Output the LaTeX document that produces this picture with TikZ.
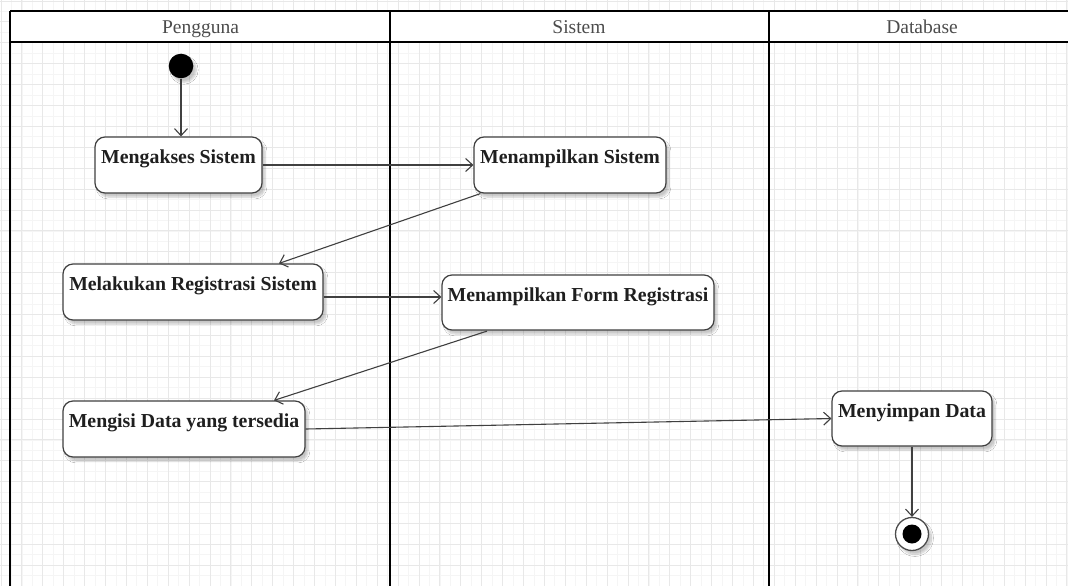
\documentclass[tikz,border=0pt]{standalone}
\usepackage{fontspec}
\setmainfont{Liberation Serif}
\usetikzlibrary{arrows.meta,shadows.blur,calc}

\begin{document}
\begin{tikzpicture}[x=1pt,y=-1pt,
  lane/.style={line width=2.4pt,draw=black},
  lanetitle/.style={text=black!70,font=\fontsize{19.5}{21}\selectfont,anchor=base,inner sep=0pt},
  soft/.style={blur shadow={shadow xshift=3pt,shadow yshift=-4pt,shadow blur steps=6,shadow opacity=22}},
  act/.style={draw=black!75,line width=1.2pt,fill=white,rounded corners=10pt,
     inner xsep=0pt,inner ysep=0pt,text height=26.5pt,text depth=29.5pt,
     font=\bfseries\fontsize{19.8}{22}\selectfont,text=black!88,soft},
  actlow/.style={act,text depth=28.5pt},
  flow/.style={draw=black!75,line width=1.1pt,
     -{Straight Barb[length=7pt,width=13pt,line width=1.1pt]}},
]
\useasboundingbox (0,0) rectangle (1068,586);
\clip (0,0) rectangle (1068,586);
\fill[white] (0,0) rectangle (1068,586);

% background grid (drawn with upward y so the step stays positive)
\begin{scope}[y=1pt,shift={(0.8,-0.8)}]
  \draw[black!4,line width=0.4pt,step=10.45] (-20,-620) grid (1100,20);
  \draw[black!9,line width=0.5pt,step=20.9] (-20,-620) grid (1100,20);
\end{scope}

% header band
\fill[white] (10,11) rectangle (1080,42);

% swimlanes
\draw[lane] (10,11) -- (1080,11);
\draw[lane] (10,42) -- (1080,42);
\draw[lane] (10,11) -- (10,600);
\draw[lane] (390,11) -- (390,600);
\draw[lane] (769,11) -- (769,600);
\draw[lane] (1071,11) -- (1071,600);

\node[lanetitle] (hP) at (200.5,34) {Pengguna};
\node[lanetitle] (hS) at (579,34) {Sistem};
\node[lanetitle] (hD) at (922,34) {Database};

% start and end
\node[circle,fill=black,minimum size=24.6pt,inner sep=0pt,soft] (init) at (181,66) {};
\node[circle,draw=black!70,line width=1.3pt,fill=white,minimum size=33pt,inner sep=0pt,soft] (fin) at (912,534) {};
\node[circle,fill=black,minimum size=19pt,inner sep=0pt] (finDot) at (fin.center) {};

% activities
\node[act,minimum width=167pt] (a1) at (178.5,165) {Mengakses Sistem};
\node[act,minimum width=192pt] (b1) at (570,165) {Menampilkan Sistem};
\node[act,minimum width=260pt] (a2) at (193,292) {Melakukan Registrasi Sistem};
\node[actlow,minimum width=272pt] (b2) at (578,302.5) {Menampilkan Form Registrasi};
\node[act,minimum width=242pt] (a3) at (184,429) {Mengisi Data yang tersedia};
\node[actlow,minimum width=160pt] (c1) at (912,418.5) {Menyimpan Data};

% control flow
\draw[flow] (init) -- (init |- a1.north);
\draw[flow] (a1.east) -- (b1.west);
\draw[flow] ($(b1.south west)+(7,0)$) -- ($(a2.north)+(86,0)$);
\draw[flow] ($(a2.east)+(0,5)$) -- ($(b2.west)+(0,-5.5)$);
\draw[flow] ($(b2.south)+(-91,0.5)$) -- ($(a3.north)+(90,0)$);
\draw[flow] (a3.east) -- (c1.west);
\draw[flow] (c1.south) -- (fin.north);
\end{tikzpicture}
\end{document}
